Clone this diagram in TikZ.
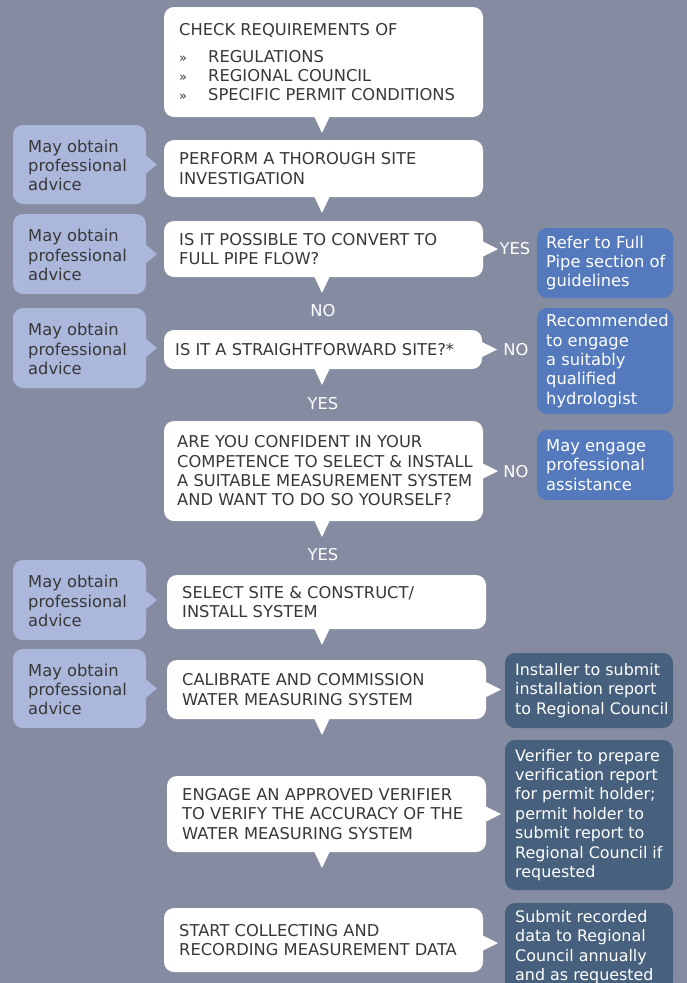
\documentclass[tikz,border=0pt]{standalone}
\usepackage{fontspec}
\setmainfont{DejaVu Sans}
\usetikzlibrary{calc}
\definecolor{bg}{HTML}{858CA1}
\definecolor{lbox}{HTML}{ABB7DB}
\definecolor{rbox}{HTML}{547ABD}
\definecolor{dbox}{HTML}{46607D}
\definecolor{txt}{HTML}{383838}
\newcommand{\bul}{\makebox[29pt][l]{\fontsize{13}{13}\selectfont »}}
\begin{document}
\begin{tikzpicture}[x=1pt,y=-1pt,
  box/.style={draw=none,rounded corners=10pt,anchor=north west,inner sep=0pt,outer sep=0pt},
  wbox/.style={box,fill=white},
  lbx/.style={box,fill=lbox,minimum width=133},
  rbx/.style={box,fill=rbox,minimum width=136},
  dbx/.style={box,fill=dbox,minimum width=168},
  txtf/.style={font=\fontsize{16.3}{19.3}\selectfont,inner sep=0pt,align=left,anchor=west},
  wtext/.style={txtf,text=txt},
  ltext/.style={txtf,text=txt},
  rtext/.style={txtf,text=white},
  dtext/.style={rtext,font=\fontsize{15.9}{19.4}\selectfont},
  lab/.style={font=\fontsize{16.3}{19.3}\selectfont,text=white,inner sep=0pt}]
\useasboundingbox (0,0) rectangle (687,983);
\clip (0,0) rectangle (687,983);
\fill[bg] (0,0) rectangle (687,983);
\coordinate (mid) at (322,0);

% main white boxes
\node[wbox,minimum width=319,minimum height=110] (b1) at (164,7) {};
\node[wbox,minimum width=319,minimum height=57] (b2) at (164,140) {};
\node[wbox,minimum width=319,minimum height=56] (b3) at (164,221) {};
\node[wbox,minimum width=318,minimum height=39] (b4) at (164,330) {};
\node[wbox,minimum width=319,minimum height=100] (b5) at (164,421) {};
\node[wbox,minimum width=319,minimum height=54] (b6) at (167,575) {};
\node[wbox,minimum width=319,minimum height=59] (b7) at (167,660) {};
\node[wbox,minimum width=319,minimum height=76] (b8) at (167,776) {};
\node[wbox,minimum width=319,minimum height=64] (b9) at (164,908) {};

\node[wtext] (t1) at ($(b1.west)+(15,0)$) {CHECK REQUIREMENTS OF\\[7.7pt]\bul REGULATIONS\\\bul REGIONAL COUNCIL\\\bul SPECIFIC PERMIT CONDITIONS};
\node[wtext] (t2) at ($(b2.west)+(15,0)$) {PERFORM A THOROUGH SITE\\INVESTIGATION};
\node[wtext] (t3) at ($(b3.west)+(15,0)$) {IS IT POSSIBLE TO CONVERT TO\\FULL PIPE FLOW?};
\node[wtext] (t4) at ($(b4.west)+(11,0)$) {IS IT A STRAIGHTFORWARD SITE?*};
\node[wtext] (t5) at ($(b5.west)+(13,0)$) {ARE YOU CONFIDENT IN YOUR\\COMPETENCE TO SELECT \& INSTALL\\A SUITABLE MEASUREMENT SYSTEM\\AND WANT TO DO SO YOURSELF?};
\node[wtext] (t6) at ($(b6.west)+(15,0)$) {SELECT SITE \& CONSTRUCT/\\INSTALL SYSTEM};
\node[wtext] (t7) at ($(b7.west)+(15,0)$) {CALIBRATE AND COMMISSION\\WATER MEASURING SYSTEM};
\node[wtext] (t8) at ($(b8.west)+(15,0)$) {ENGAGE AN APPROVED VERIFIER\\TO VERIFY THE ACCURACY OF THE\\WATER MEASURING SYSTEM};
\node[wtext] (t9) at ($(b9.west)+(15,0)$) {START COLLECTING AND\\RECORDING MEASUREMENT DATA};

% down pointers
\foreach \b in {b1,b2,b3,b4,b5,b6,b7,b8}
  \fill[white] (\b.south -| mid) ++(-8,-1) -- ++(16,0) -- ++(-8,17) -- cycle;

% right pointers
\foreach \b in {b3,b4,b5,b7,b8}
  \fill[white] (\b.east) ++(-1,-8) -- ++(0,16) -- ++(16,-8) -- cycle;
\fill[white] ($(b9.east)+(-1,-5)$) -- ++(0,16) -- ++(16,-8) -- cycle;

% left boxes
\node[lbx,minimum height=79] (l1) at (13,125) {};
\node[lbx,minimum height=80] (l2) at (13,214) {};
\node[lbx,minimum height=80] (l3) at (13,308) {};
\node[lbx,minimum height=80] (l4) at (13,560) {};
\node[lbx,minimum height=79] (l5) at (13,649) {};
\foreach \l in {l1,l2,l3,l4,l5}{
  \node[ltext] (\l t) at ($(\l.west)+(15,1)$) {May obtain\\professional\\advice};
  \fill[lbox] (\l.east) ++(-1,-10) -- ++(0,20) -- ++(12,-10) -- cycle;
}

% right blue boxes
\node[rbx,minimum height=70] (r1) at (537,228) {};
\node[rbx,minimum height=106] (r2) at (537,308) {};
\node[rbx,minimum height=70] (r3) at (537,430) {};
\node[rtext] (r1t) at ($(r1.west)+(9,0)$) {Refer to Full\\Pipe section of\\guidelines};
\node[rtext] (r2t) at ($(r2.west)+(9,0)$) {Recommended\\to engage\\a suitably\\qualified\\hydrologist};
\node[rtext] (r3t) at ($(r3.west)+(9,0)$) {May engage\\professional\\assistance};

% dark boxes
\node[dbx,minimum height=75] (d1) at (505,653) {};
\node[dbx,minimum height=150] (d2) at (505,740) {};
\node[dbx,minimum height=88] (d3) at (505,903) {};
\node[dtext] (d1t) at ($(d1.west)+(10,0)$) {Installer to submit\\installation report\\to Regional Council};
\node[dtext] (d2t) at ($(d2.west)+(10,0)$) {Verifier to prepare\\verification report\\for permit holder;\\permit holder to\\submit report to\\Regional Council if\\requested};
\node[dtext] (d3t) at ($(d3.west)+(10,0)$) {Submit recorded\\data to Regional\\Council annually\\and as requested};

% labels
\node[lab] (yes1) at (515,249) {YES};
\node[lab] (no1) at (323,311) {NO};
\node[lab] (no2) at (516,350) {NO};
\node[lab] (yes2) at (323,404) {YES};
\node[lab] (no3) at (516,472) {NO};
\node[lab] (yes3) at (323,555) {YES};
\end{tikzpicture}
\end{document}
